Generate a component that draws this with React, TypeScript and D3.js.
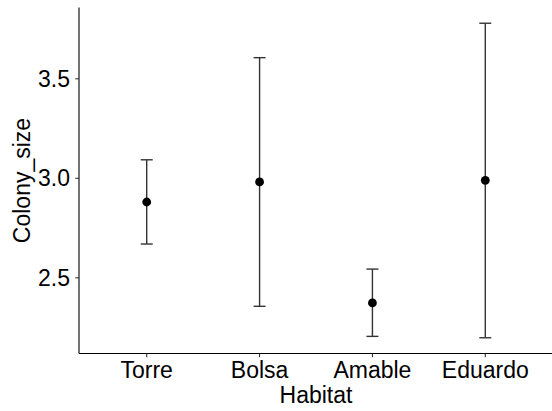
import React from "react";
import * as d3 from "d3";

// Habitat categories and colony size summaries (mean with lower/upper bounds)
const habitats = ["Torre", "Bolsa", "Amable", "Eduardo"];
const means = [2.881, 2.982, 2.374, 2.99];
const lowers = [2.67, 2.357, 2.206, 2.199];
const uppers = [3.093, 3.606, 2.544, 3.779];
const yTicks = [2.5, 3.0, 3.5];

const W = 552;
const H = 411;
const margin = { left: 79, right: -1, top: 7.5, bottom: 57.5 };

export default function App() {
  const plotLeft = margin.left;
  const plotRight = W - margin.right;
  const plotTop = margin.top;
  const plotBottom = H - margin.bottom;

  const lo = d3.min(lowers)!;
  const hi = d3.max(uppers)!;
  const pad = (hi - lo) * 0.05;
  const y = d3
    .scaleLinear()
    .domain([lo - pad, hi + pad])
    .range([plotBottom, plotTop]);

  const x = d3
    .scalePoint<string>()
    .domain(habitats)
    .range([plotLeft, plotRight])
    .padding(0.6);

  const capHalf = 6;
  const font = "Liberation Sans, Arial, sans-serif";
  const fs = 23;

  return (
    <svg
      width={W}
      height={H}
      style={{ position: "absolute", left: 0, top: 0, background: "#fff" }}
    >
      {/* error bars */}
      {habitats.map((h, i) => {
        const cx = x(h)!;
        return (
          <g key={h} stroke="#333" strokeWidth={1.4} fill="none">
            <line x1={cx} x2={cx} y1={y(lowers[i])} y2={y(uppers[i])} />
            <line x1={cx - capHalf} x2={cx + capHalf} y1={y(lowers[i])} y2={y(lowers[i])} />
            <line x1={cx - capHalf} x2={cx + capHalf} y1={y(uppers[i])} y2={y(uppers[i])} />
          </g>
        );
      })}
      {/* mean points */}
      {habitats.map((h, i) => (
        <circle key={h} cx={x(h)!} cy={y(means[i])} r={4.4} fill="#000" />
      ))}

      {/* axes */}
      <line x1={plotLeft} x2={plotLeft} y1={plotTop} y2={plotBottom} stroke="#000" strokeWidth={1.1} />
      <line x1={plotLeft} x2={plotRight} y1={plotBottom} y2={plotBottom} stroke="#000" strokeWidth={1.1} />

      {yTicks.map((t) => (
        <g key={t}>
          <line x1={plotLeft - 3.7} x2={plotLeft} y1={y(t)} y2={y(t)} stroke="#333" strokeWidth={1.1} />
          <text
            x={plotLeft - 9}
            y={y(t)}
            textAnchor="end"
            dominantBaseline="central"
            fontFamily={font}
            fontSize={fs}
            fill="#000"
          >
            {d3.format(".1f")(t)}
          </text>
        </g>
      ))}

      {habitats.map((h) => (
        <g key={h}>
          <line x1={x(h)!} x2={x(h)!} y1={plotBottom} y2={plotBottom + 3.7} stroke="#333" strokeWidth={1.1} />
          <text
            x={x(h)!}
            y={plotBottom + 24.2}
            textAnchor="middle"
            fontFamily={font}
            fontSize={fs}
            fill="#000"
          >
            {h}
          </text>
        </g>
      ))}

      <text
        x={(plotLeft + plotRight) / 2}
        y={402.7}
        textAnchor="middle"
        fontFamily={font}
        fontSize={fs}
        fill="#000"
      >
        Habitat
      </text>
      <text
        transform={`translate(${29.5}, ${(plotTop + plotBottom) / 2}) rotate(-90)`}
        textAnchor="middle"
        fontFamily={font}
        fontSize={fs}
        fill="#000"
      >
        Colony_size
      </text>
    </svg>
  );
}
